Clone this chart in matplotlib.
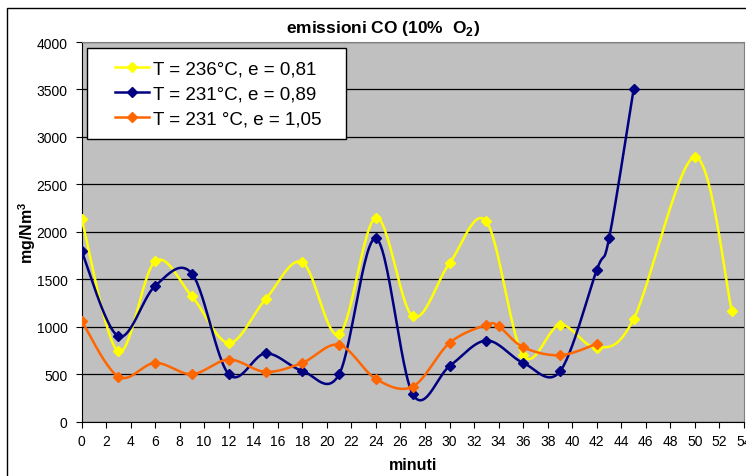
import numpy as np
import matplotlib
matplotlib.use("Agg")
import matplotlib.pyplot as plt
from matplotlib.patches import Rectangle

plt.rcParams['font.family'] = ['Liberation Sans', 'DejaVu Sans']
plt.rcParams['mathtext.fontset'] = 'custom'
plt.rcParams['mathtext.rm'] = 'Liberation Sans'
plt.rcParams['mathtext.bf'] = 'Liberation Sans:bold'

# data (minutes, mg/Nm3)
x_236 = [0, 3, 6, 9, 12, 15, 18, 21, 24, 27, 30, 33, 36, 39, 42, 45, 50, 53]
co_236 = [2140, 740, 1690, 1320, 830, 1290, 1680, 920, 2150, 1110, 1670, 2110,
          700, 1020, 780, 1080, 2790, 1170]

x_231a = [0, 3, 6, 9, 12, 15, 18, 21, 24, 27, 30, 33, 36, 39, 42, 43, 45]
co_231a = [1800, 900, 1430, 1560, 500, 720, 535, 500, 1930, 290, 585, 855,
           620, 530, 1600, 1930, 3500]

x_231b = [0, 3, 6, 9, 12, 15, 18, 21, 24, 27, 30, 33, 34, 36, 39, 42]
co_231b = [1065, 475, 620, 500, 655, 525, 620, 810, 450, 370, 830, 1020,
           1005, 785, 700, 820]

labels = ['T = 236°C, e = 0,81', 'T = 231°C, e = 0,89', 'T = 231 °C, e = 1,05']
colors = ['#FFFF00', '#000080', '#FF6600']


def smooth(xs, ys, n=30):
    # excel-like smoothed line: catmull-rom as cubic bezier
    p = np.column_stack([xs, ys]).astype(float)
    p = np.vstack([p[0], p, p[-1]])
    out = []
    t = np.linspace(0, 1, n)[:, None]
    for i in range(1, len(p) - 2):
        p0, p3 = p[i], p[i + 1]
        c1 = p0 + (p[i + 1] - p[i - 1]) / 6
        c2 = p3 - (p[i + 2] - p[i]) / 6
        seg = ((1 - t) ** 3) * p0 + 3 * ((1 - t) ** 2) * t * c1 + 3 * (1 - t) * t ** 2 * c2 + t ** 3 * p3
        out.append(seg if i == 1 else seg[1:])
    out = np.vstack(out)
    return out[:, 0], out[:, 1]


W, H = 746, 477
fig = plt.figure(figsize=(W / 100, H / 100), dpi=100)
fig.patch.set_facecolor('white')
fig.patches.append(Rectangle((7 / W, -0.1), 1.2, 1 - 9 / H + 0.1, transform=fig.transFigure,
                             fill=False, edgecolor='black', linewidth=1))

ax = fig.add_axes([81.5 / W, 1 - 422.7 / H, (744 - 81.5) / W, 379.7 / H])
ax.set_facecolor('#C0C0C0')

handles = []
for xs, ys, c, lab in zip([x_236, x_231a, x_231b], [co_236, co_231a, co_231b], colors, labels):
    sx, sy = smooth(xs, ys)
    ax.plot(sx, sy, color=c, linewidth=1.8, zorder=3)
    ax.plot(xs, ys, linestyle='none', marker='D', markersize=5, color=c, zorder=4)
    h, = ax.plot([], [], color=c, linewidth=1.8, marker='D', markersize=5, label=lab)
    handles.append(h)

ax.set_xlim(0, 54)
ax.set_ylim(0, 4000)
ax.set_xticks(range(0, 55, 2))
ax.set_yticks(range(0, 4001, 500))
ax.yaxis.grid(True, color='black', linewidth=0.9)
ax.set_axisbelow(True)
ax.tick_params(axis='both', labelsize=10, direction='out', length=4, width=0.8)
ax.tick_params(axis='x', pad=5)
ax.tick_params(axis='y', pad=6)
for s in ['top', 'right']:
    ax.spines[s].set_color('#808080')
for s in ['left', 'bottom']:
    ax.spines[s].set_color('black')

ax.set_xlabel('minuti', fontsize=11.5, fontweight='bold', labelpad=6)
ax.set_ylabel('mg/Nm$^\\mathbf{3}$', fontsize=11.5, fontweight='bold', labelpad=-1)
fig.text(382.7 / W, 1 - 28 / H, 'emissioni CO (10%  O$_\\mathbf{2}$)', fontsize=12.5,
         fontweight='bold', ha='center', va='center')

# legend box
fig.patches.append(Rectangle((86.7 / W, 1 - 140 / H), (345.7 - 86.7) / W, (140 - 49.3) / H,
                             transform=fig.transFigure, facecolor='white', edgecolor='black',
                             linewidth=1, zorder=5))
leg = fig.legend(handles=handles, loc='center left', bbox_to_anchor=(115 / W, 1 - 95 / H),
                 frameon=False, fontsize=13.5, borderpad=0, borderaxespad=0, handlelength=1.8,
                 handletextpad=0.25, labelspacing=0.4)
leg.set_zorder(6)

fig.savefig('out.png', dpi=100)
